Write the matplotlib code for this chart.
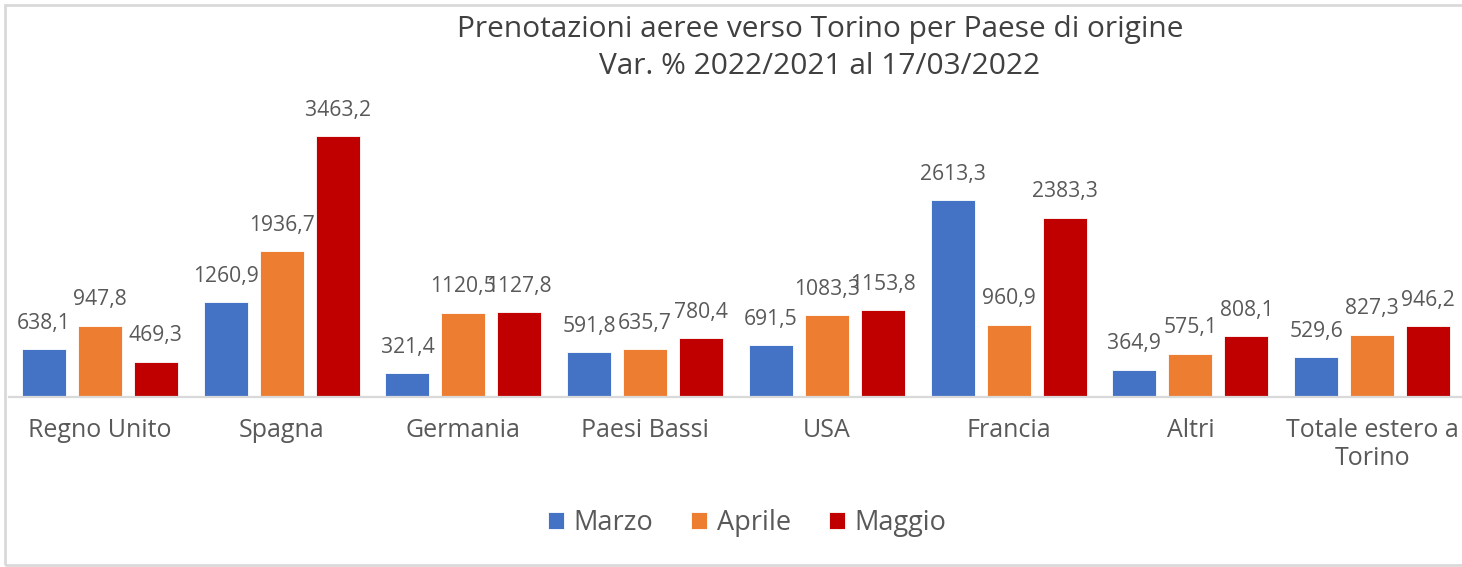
import numpy as np
import matplotlib.pyplot as plt
from matplotlib.patches import Rectangle

# Variazione % prenotazioni aeree 2022/2021 per paese di origine
paesi = ['Regno Unito', 'Spagna', 'Germania', 'Paesi Bassi', 'USA',
         'Francia', 'Altri', 'Totale estero a\nTorino']
marzo = [638.1, 1260.9, 321.4, 591.8, 691.5, 2613.3, 364.9, 529.6]
aprile = [947.8, 1936.7, 1120.5, 635.7, 1083.3, 960.9, 575.1, 827.3]
maggio = [469.3, 3463.2, 1127.8, 780.4, 1153.8, 2383.3, 808.1, 946.2]

serie = [('Marzo', marzo, '#4472C4'),
         ('Aprile', aprile, '#ED7D31'),
         ('Maggio', maggio, '#C00000')]

plt.rcParams['font.family'] = ['Open Sans', 'DejaVu Sans']
testo = '#595959'

fig = plt.figure(figsize=(14.62, 5.67), dpi=100)
ax = fig.add_axes([9 / 1462, 1 - 397 / 567, 1454 / 1462, 301 / 567])

x = np.arange(len(paesi))
w = 0.242
passo = 0.308
for i, (nome, valori, colore) in enumerate(serie):
    pos = x + (i - 1) * passo
    bars = ax.bar(pos, valori, width=w, color=colore, label=nome,
                  edgecolor='white', linewidth=0.6)
    for b, v in zip(bars, valori):
        ax.annotate(f'{v:.1f}'.replace('.', ','),
                    (b.get_x() + b.get_width() / 2, b.get_height()),
                    xytext=(0, 11), textcoords='offset points',
                    ha='center', va='bottom', fontsize=15.2, color=testo)

ax.set_xlim(-0.5, len(paesi) - 0.5)
ax.set_ylim(0, 4000)
ax.set_xticks(x)
ax.set_xticklabels(paesi, fontsize=18, color=testo, linespacing=1.15)
ax.tick_params(axis='x', length=0, pad=15)
ax.set_yticks([])
for lato in ['top', 'right', 'left']:
    ax.spines[lato].set_visible(False)
ax.spines['bottom'].set_color('#D9D9D9')
ax.spines['bottom'].set_linewidth(1.6)

fig.text(820 / 1462, 1 - 30 / 567,
         'Prenotazioni aeree verso Torino per Paese di origine',
         ha='center', va='center', fontsize=21.5, color='#404040')
fig.text(820 / 1462, 1 - 66 / 567,
         'Var. % 2022/2021 al 17/03/2022',
         ha='center', va='center', fontsize=21.5, color='#404040')

leg = fig.legend(loc='center', bbox_to_anchor=(747 / 1462, 1 - 523 / 567),
                 ncol=3, frameon=False, fontsize=19.5,
                 handlelength=0.6, handleheight=0.6, handletextpad=0.35,
                 columnspacing=1.4)
for t in leg.get_texts():
    t.set_color(testo)

# cornice dell'area grafico
fig.add_artist(Rectangle((5 / 1462, 2 / 567), 1.0, 1 - 7 / 567,
                         transform=fig.transFigure, fill=False,
                         edgecolor='#D9D9D9', linewidth=2))

fig.savefig('out.png', dpi=100)
